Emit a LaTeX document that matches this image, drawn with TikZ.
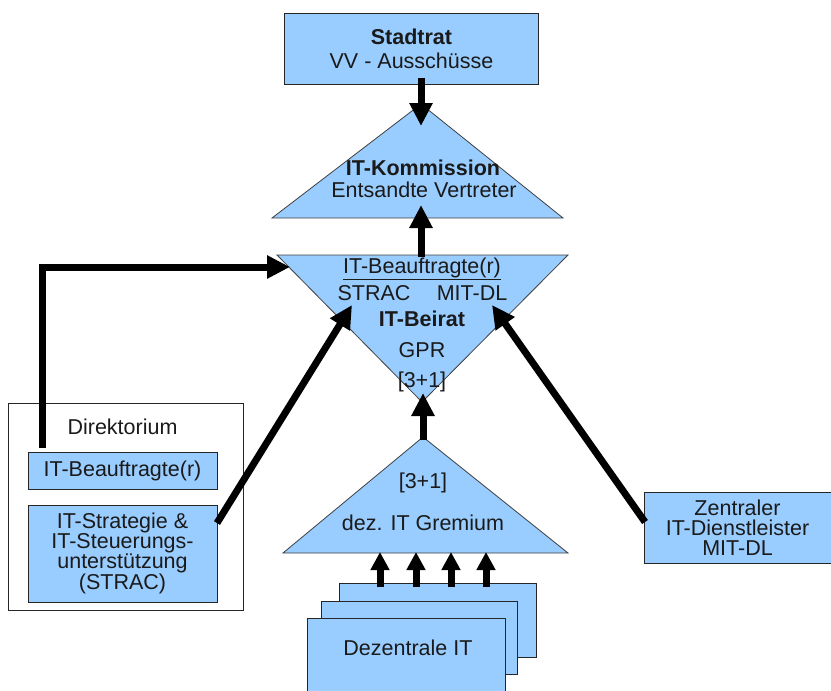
\documentclass[tikz,border=0pt]{standalone}
\usepackage{fontspec}
\setmainfont{Liberation Sans}
\usetikzlibrary{arrows.meta}
\definecolor{boxblue}{HTML}{99CCFF}
\definecolor{txt}{HTML}{1A1A1A}
\begin{document}
\begin{tikzpicture}[x=1pt,y=-1pt,
  every node/.style={font=\fontsize{21.5}{20}\selectfont, text=txt, inner sep=0pt},
  bluebox/.style={draw=black!85, fill=boxblue, line width=1pt, align=center},
  tri/.style={draw=black!75, fill=boxblue, line width=0.8pt, line join=miter},
  bigarrow/.style={line width=7pt, -{Triangle[width=22pt,length=23pt]}},
  smallarrow/.style={line width=7pt, -{Triangle[width=18pt,length=18pt]}},
  lbl/.style={anchor=base}]
\useasboundingbox (0,0) rectangle (831,691);
\clip (0,0) rectangle (831,691);

% Direktorium frame
\node[draw=black!85, line width=0.8pt, minimum width=235, minimum height=207] (dir) at (125.5,506.5) {};
\node[lbl] (dirlbl) at (122.5,434) {Direktorium};
\node[bluebox, minimum width=189, minimum height=37] (dbeauf) at (122.5,470.5) {IT-Beauftragte(r)};
\node[bluebox, minimum width=189, minimum height=97] (strac) at (122.5,553.5)
  {IT-Strategie \&\\IT-Steuerungs-\\unterstützung\\(STRAC)};

% Zentraler IT-Dienstleister
\node[bluebox, minimum width=187, minimum height=71] (mitdl) at (737.5,527.5)
  {Zentraler\\IT-Dienstleister\\MIT-DL};

% Stadtrat
\node[bluebox, minimum width=254, minimum height=71, font=\fontsize{21.5}{24}\selectfont] (stadtrat) at (411.5,48.5)
  {\textbf{Stadtrat}\\VV - Ausschüsse};

% IT-Kommission triangle
\coordinate (kA) at (421,104);
\coordinate (kL) at (272,218);
\coordinate (kR) at (563,218);
\draw[tri] (kA) -- (kL) -- (kR) -- cycle;
\node[lbl] (k1) at (423,175) {\textbf{IT-Kommission}};
\node[lbl] (k2) at (424,197) {Entsandte Vertreter};

% IT-Beirat inverted triangle
\coordinate (bL) at (277,255);
\coordinate (bR) at (568,255);
\coordinate (bA) at (422,402);
\draw[tri] (bL) -- (bR) -- (bA) -- cycle;
\node[lbl] (b1) at (422,273) {\underline{IT-Beauftragte(r)}};
\node[lbl] (b2) at (374,300) {STRAC};
\node[lbl] (b3) at (472,300) {MIT-DL};
\node[lbl] (b4) at (422,326) {\textbf{IT-Beirat}};
\node[lbl] (b5) at (422,357) {GPR};
\node[lbl] (b6) at (422,387) {[3+1]};

% dez. IT Gremium triangle
\coordinate (gA) at (423,437);
\coordinate (gL) at (283,553);
\coordinate (gR) at (568,553);
\draw[tri] (gA) -- (gL) -- (gR) -- cycle;
\node[lbl] (g1) at (423,488) {[3+1]};
\node[lbl] (g2) at (423,530) {dez. IT Gremium};

% Dezentrale IT stack
\node[bluebox, anchor=north west, minimum width=197, minimum height=74] (dz3) at (339,583) {};
\node[bluebox, anchor=north west, minimum width=196, minimum height=73] (dz2) at (321,601) {};
\node[bluebox, anchor=north west, minimum width=198, minimum height=90] (dz1) at (307,618) {};
\node[lbl] (dzl) at (408,655) {Dezentrale IT};

% connector anchors
\coordinate (sOut) at (421,78);
\coordinate (kIn) at (421,126);
\coordinate (bTop) at (421,257);
\coordinate (kIn2) at (421,205);
\coordinate (gTop) at (423,440);
\coordinate (bIn) at (423,393);
\coordinate (dbOut) at (42,448);
\coordinate (bInL) at (290,267);
\coordinate (stOut) at (217,523);
\coordinate (bInS) at (352,305);
\coordinate (mOut) at (645,522);
\coordinate (bInM) at (492,305);

\draw[bigarrow] (sOut) -- (kIn);
\draw[bigarrow] (bTop) -- (kIn2);
\draw[bigarrow] (gTop) -- (bIn);
\draw[bigarrow] (dbOut) |- (bInL);
\draw[bigarrow] (stOut) -- (bInS);
\draw[bigarrow] (mOut) -- (bInM);

\foreach \x/\n in {380/a,416/b,451/c,486/d}{
  \coordinate (up\n) at (\x,587);
  \coordinate (tip\n) at (\x,552);
  \draw[smallarrow] (up\n) -- (tip\n);
}
\end{tikzpicture}
\end{document}
